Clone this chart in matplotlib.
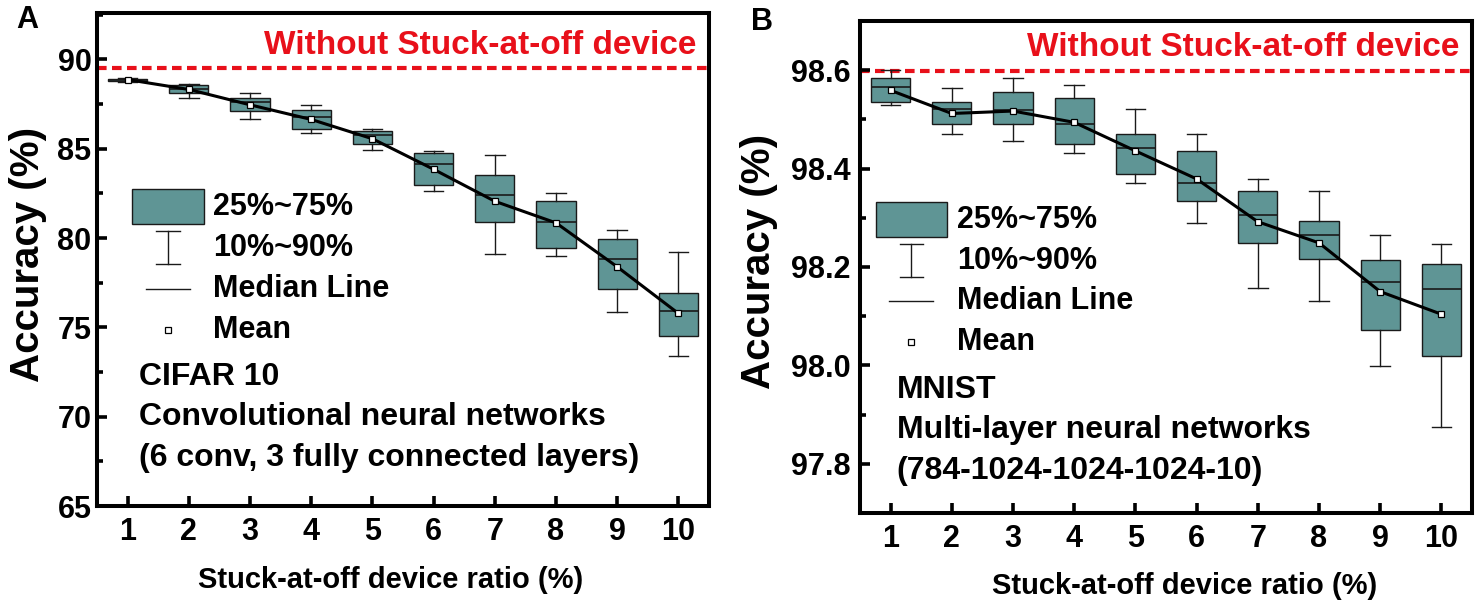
import numpy as np
import matplotlib
matplotlib.use('Agg')
import matplotlib.pyplot as plt
from matplotlib.patches import Rectangle
from matplotlib.lines import Line2D
from matplotlib.ticker import MultipleLocator, AutoMinorLocator, FormatStrFormatter

plt.rcParams['font.family'] = ['Liberation Sans', 'DejaVu Sans']
plt.rcParams['font.weight'] = 'bold'
plt.rcParams['axes.labelweight'] = 'bold'

# stuck-at-off device ratio (%)
ratio = np.arange(1, 11)

# A: CIFAR 10, CNN  (10/25/50/75/90 percentiles + mean)
a_whislo = [88.72, 87.86, 86.68, 85.90, 84.91, 82.62, 79.08, 79.00, 75.87, 73.39]
a_q1 = [88.78, 88.12, 87.09, 86.12, 85.28, 82.99, 80.90, 79.45, 77.14, 74.53]
a_med = [88.87, 88.36, 87.61, 86.77, 85.75, 84.16, 82.39, 80.90, 78.85, 75.91]
a_q3 = [88.93, 88.55, 87.84, 87.15, 85.97, 84.78, 83.55, 82.06, 79.93, 76.95]
a_whishi = [88.98, 88.64, 88.10, 87.46, 86.12, 84.85, 84.63, 82.52, 80.44, 79.22]
a_mean = [88.87, 88.32, 87.46, 86.64, 85.56, 83.85, 82.06, 80.85, 78.39, 75.78]
a_ideal = 89.5

# B: MNIST, MLP
b_whislo = [98.530, 98.470, 98.456, 98.431, 98.371, 98.289, 98.157, 98.130, 97.998, 97.874]
b_q1 = [98.536, 98.490, 98.490, 98.450, 98.390, 98.334, 98.249, 98.216, 98.071, 98.019]
b_med = [98.565, 98.522, 98.519, 98.490, 98.441, 98.371, 98.306, 98.266, 98.170, 98.155]
b_q3 = [98.584, 98.536, 98.556, 98.544, 98.470, 98.436, 98.354, 98.294, 98.214, 98.206]
b_whishi = [98.600, 98.564, 98.584, 98.570, 98.521, 98.470, 98.379, 98.354, 98.265, 98.246]
b_mean = [98.559, 98.512, 98.517, 98.494, 98.436, 98.379, 98.292, 98.249, 98.150, 98.104]
b_ideal = 98.598

key_labels = ['25%~75%', '10%~90%', 'Median Line', 'Mean']
a_notes = ['CIFAR 10', 'Convolutional neural networks', '(6 conv, 3 fully connected layers)']
b_notes = ['MNIST', 'Multi-layer neural networks', '(784-1024-1024-1024-10)']

BOX_COLOR = '#5f9595'
EDGE = '#1a1a1a'
RED = '#e8101a'
W, H = 1484, 609


def draw_boxes(ax, whislo, q1, med, q3, whishi, mean, ideal, ty):
    stats = [dict(whislo=lo, q1=a, med=m, q3=b, whishi=hi)
             for lo, a, m, b, hi in zip(whislo, q1, med, q3, whishi)]
    ax.bxp(stats, positions=ratio, widths=0.64, capwidths=0.32, patch_artist=True,
           showfliers=False, manage_ticks=False,
           boxprops=dict(facecolor=BOX_COLOR, edgecolor=EDGE, linewidth=1.0),
           medianprops=dict(color=EDGE, linewidth=1.2),
           whiskerprops=dict(color=EDGE, linewidth=1.0),
           capprops=dict(color=EDGE, linewidth=1.0))
    ax.plot(ratio, mean, color='black', lw=2.2, marker='s', ms=4.5,
            mfc='white', mec='black', mew=0.9, zorder=5)
    ax.axhline(ideal, color=RED, lw=3, ls=(0, (2.3, 1.3)), zorder=1)
    ax.text(0.98, ty, 'Without Stuck-at-off device', transform=ax.transAxes,
            ha='right', va='center', color=RED, fontsize=24)


def draw_key(ax, x, y, notes, nx, ny):
    # hand-made legend, icons centred on x, first row at y (axes fraction)
    step = 0.083
    tr = ax.transAxes
    ax.add_patch(Rectangle((x - 0.0585, y - 0.036), 0.117, 0.072, transform=tr,
                           facecolor=BOX_COLOR, edgecolor=EDGE, lw=1.0))
    y2 = y - step
    ax.add_line(Line2D([x, x], [y2 - 0.034, y2 + 0.034], transform=tr, color=EDGE, lw=1.0))
    for yy in (y2 - 0.034, y2 + 0.034):
        ax.add_line(Line2D([x - 0.019, x + 0.019], [yy, yy], transform=tr, color=EDGE, lw=1.0))
    y3 = y - 2 * step
    ax.add_line(Line2D([x - 0.036, x + 0.036], [y3, y3], transform=tr, color=EDGE, lw=1.0))
    y4 = y - 3 * step
    ax.add_line(Line2D([x], [y4], transform=tr, marker='s', ms=4.5, mfc='white',
                       mec='black', mew=0.9))
    for i, lab in enumerate(key_labels):
        ax.text(x + 0.074, y - i * step, lab, transform=tr, ha='left', va='center',
                fontsize=22)
    for i, lab in enumerate(notes):
        ax.text(nx, ny - i * 0.082, lab, transform=tr, ha='left', va='center',
                fontsize=23)


def style_axes(ax, major, ylim, ypad, fmt=None):
    ax.set_xlim(0.5, 10.5)
    ax.set_ylim(*ylim)
    ax.set_xticks(ratio)
    ax.yaxis.set_major_locator(MultipleLocator(major))
    ax.yaxis.set_minor_locator(AutoMinorLocator(2))
    if fmt:
        ax.yaxis.set_major_formatter(FormatStrFormatter(fmt))
    for s in ax.spines.values():
        s.set_linewidth(2.9)
    ax.tick_params(which='major', direction='in', length=7, width=2.6, labelsize=22)
    ax.tick_params(which='minor', direction='in', length=4.5, width=2.6)
    ax.tick_params(axis='x', which='minor', bottom=False)
    ax.tick_params(axis='x', pad=8)
    ax.tick_params(axis='y', pad=ypad)
    ax.set_xlabel('Stuck-at-off device ratio (%)', fontsize=21)
    ax.set_ylabel('Accuracy (%)', fontsize=29)


fig = plt.figure(figsize=(W / 100, H / 100), dpi=100)

# panel A
axA = fig.add_axes([97 / W, 1 - 506 / H, 612 / W, 493 / H])
draw_boxes(axA, a_whislo, a_q1, a_med, a_q3, a_whishi, a_mean, a_ideal, 0.935)
style_axes(axA, 5, (65, 92.6), 4)
axA.xaxis.set_label_coords(0.48, -0.122)
axA.yaxis.set_label_coords(-0.081, 0.51)
draw_key(axA, 0.116, 0.607, a_notes, 0.068, 0.262)

# panel B
axB = fig.add_axes([860 / W, 1 - 513 / H, 612 / W, 492 / H])
draw_boxes(axB, b_whislo, b_q1, b_med, b_q3, b_whishi, b_mean, b_ideal, 0.947)
style_axes(axB, 0.2, (97.7, 98.7), 7, '%.1f')
axB.xaxis.set_label_coords(0.53, -0.12)
axB.yaxis.set_label_coords(-0.134, 0.512)
draw_key(axB, 0.084, 0.596, b_notes, 0.060, 0.25)

fig.text(27 / W, 1 - 20 / H, 'A', fontsize=22, ha='center', va='center')
fig.text(762 / W, 1 - 22 / H, 'B', fontsize=22, ha='center', va='center')

fig.savefig('out.png', dpi=100)
